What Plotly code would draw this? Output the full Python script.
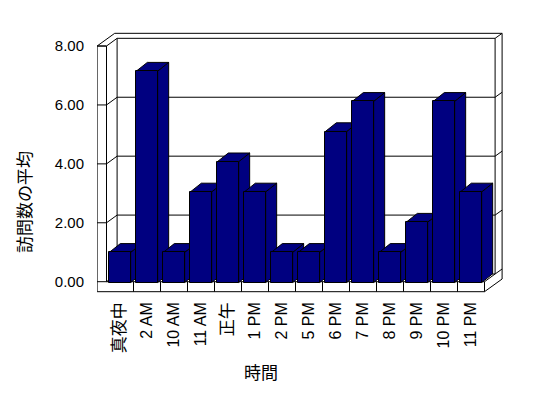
import plotly.graph_objects as go

# ---- data ----
categories = ["真夜中", "2 AM", "10 AM", "11 AM", "正午", "1 PM", "2 PM",
              "5 PM", "6 PM", "7 PM", "8 PM", "9 PM", "10 PM", "11 PM"]
avg_visits = [1, 7, 1, 3, 4, 3, 1, 1, 5, 6, 1, 2, 6, 3]
y_tick_vals = [0, 2, 4, 6, 8]
y_tick_labels = ["0.00", "2.00", "4.00", "6.00", "8.00"]
x_title = "時間"
y_title = "訪問数の平均"

# ---- layout geometry (pixels) ----
W, H = 548, 398
L, R, T, B = 84, 30, 30, 100     # margins; y-axis labels anchor at L
PL = 97                          # left edge of x-axis domain (px)
PW, PH = W - L - R, H - T - B
CAT = 27.0      # px per category
X0 = 120.0      # px of first category centre
Y0 = 281.7      # px of value 0 on the front plane (label axis)
U = 29.46       # px per unit on label axis
Y0B = 282.5     # px of value 0 for bars
UB = 30.2       # px per unit for bars

x_range = [(PL - X0) / CAT, (W - R - X0) / CAT]
y_range = [(Y0 - (H - B)) / U, (Y0 - T) / U]
y2_range = [(Y0B - (H - B)) / UB, (Y0B - T) / UB]

NAVY = "#000080"
BAR_W = 0.79
DXB, DYB = 11.0 / CAT, 8.7 / UB   # bar depth offset
FONT = "Liberation Sans, Arial, Noto Sans CJK JP, sans-serif"

fig = go.Figure()
idx = list(range(len(categories)))

# 3D top / side faces of the bars (behind the front faces)
for i, v in zip(idx, avg_visits):
    xl, xr = i - BAR_W / 2, i + BAR_W / 2
    side = dict(x=[xr, xr + DXB, xr + DXB, xr, xr], y=[0, DYB, v + DYB, v, 0])
    top = dict(x=[xl, xr, xr + DXB, xl + DXB, xl], y=[v, v, v + DYB, v + DYB, v])
    for poly in (side, top):
        fig.add_trace(go.Scatter(
            **poly, mode="lines", fill="toself", fillcolor=NAVY,
            line=dict(color="black", width=1), yaxis="y2",
            hoverinfo="skip", showlegend=False, zorder=0))

# front faces
fig.add_trace(go.Bar(
    x=idx, y=avg_visits, width=BAR_W, yaxis="y2", zorder=1,
    marker=dict(color=NAVY, line=dict(color="black", width=1)),
    showlegend=False, name=y_title))

# ---- 3D frame (walls and floor) ----
XL, XRt = -0.5, len(categories) - 0.5
WT = 9.4 / CAT
DX, DY = 10.6 / CAT, 7.7 / U
BX, BY = 7.0 / CAT, 5.0 / U
FT = 10.0 / U
YM = max(y_tick_vals)

segs = []
# left wall front face
segs += [(XL - WT, -FT, XL - WT, YM), (XL - WT, YM, XL, YM), (XL, 0, XL, YM)]
# tick marks across the wall front face
segs += [(XL - WT, v, XL, v) for v in y_tick_vals]
# floor front face
segs += [(XL - WT, -FT, XRt, -FT), (XL, 0, XRt, 0), (XRt, -FT, XRt, 0)]
segs += [(k - 0.5, -FT, k - 0.5, 0) for k in range(1, len(categories))]
# wall tops
segs += [(XL - WT, YM, XL - WT + DX + BX, YM + DY + BY), (XL, YM, XL + DX, YM + DY)]
segs += [(XL - WT + DX + BX, YM + DY + BY, XRt + DX + BX, YM + DY + BY),
         (XL + DX, YM + DY, XRt + DX, YM + DY),
         (XL + DX, DY, XL + DX, YM + DY),
         (XRt + DX, DY, XRt + DX, YM + DY),
         (XRt + DX + BX, -FT + DY + BY, XRt + DX + BX, YM + DY + BY),
         (XRt + DX, YM + DY, XRt + DX + BX, YM + DY + BY)]
# gridlines
for v in y_tick_vals[:-1]:
    segs += [(XL + DX, v + DY, XRt + DX, v + DY),
             (XL, v, XL + DX, v + DY),
             (XRt + DX, v + DY, XRt + DX + BX, v + DY + BY)]
# floor right edges
segs += [(XRt, 0, XRt + DX, DY), (XRt, -FT, XRt + DX + BX, -FT + DY + BY)]

shapes = [dict(type="line", xref="x", yref="y", x0=a, y0=b, x1=c, y1=d,
               line=dict(color="black", width=1), layer="below")
          for a, b, c, d in segs]


def is_cjk(s):
    return any(ord(ch) > 0x2E80 for ch in s)


tick_text = [f'<span style="font-size:17px">{c}</span>' if is_cjk(c) else c
             for c in categories]

fig.update_layout(
    width=W, height=H,
    margin=dict(l=L, r=R, t=T, b=B, pad=0),
    paper_bgcolor="white", plot_bgcolor="white",
    font=dict(family=FONT, size=14, color="black"),
    shapes=shapes,
    bargap=0,
    xaxis=dict(range=x_range, domain=[(PL - L) / PW, 1],
               tickvals=idx, ticktext=tick_text, tickangle=-90,
               showgrid=False, zeroline=False, showline=False, ticks="",
               tickfont=dict(family=FONT, size=16, color="black"), fixedrange=True),
    yaxis=dict(range=y_range, anchor="free", position=0,
               tickvals=y_tick_vals, ticktext=y_tick_labels, ticks="",
               showgrid=False, zeroline=False, showline=False,
               tickfont=dict(family=FONT, size=15, color="black"), fixedrange=True),
    yaxis2=dict(range=y2_range, overlaying="y", visible=False, fixedrange=True),
    annotations=[
        dict(text=y_title, xref="paper", yref="paper",
             x=(25 - L) / PW, y=(H - B - 202) / PH, textangle=-90,
             showarrow=False, font=dict(size=17), xanchor="center", yanchor="middle"),
        dict(text=x_title, xref="paper", yref="paper",
             x=(261 - L) / PW, y=(H - B - 373) / PH,
             showarrow=False, font=dict(size=17), xanchor="center", yanchor="middle"),
    ],
)

fig.write_html("out.html")
